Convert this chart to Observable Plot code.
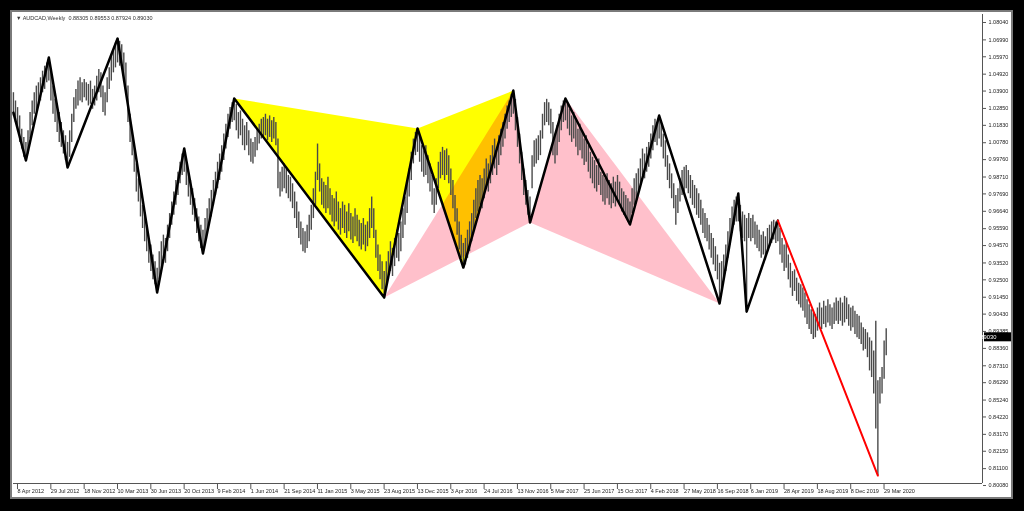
<!DOCTYPE html>
<html><head><meta charset="utf-8">
<script src="https://cdn.jsdelivr.net/npm/d3@7"></script>
<script src="https://cdn.jsdelivr.net/npm/@observablehq/plot@0.6"></script>
<style>
html,body{margin:0;padding:0;background:#000;width:1024px;height:511px;overflow:hidden;}
#frame{position:absolute;left:10px;top:10px;width:1003px;height:489px;box-sizing:border-box;border:2px solid #7a7a7a;background:#fff;}
#chart{position:absolute;left:0;top:0;}
#title{position:absolute;left:4px;top:3px;font:5.5px "Liberation Sans",Arial,sans-serif;color:#333;white-space:pre;z-index:2;}
</style></head>
<body>
<div id="frame"><div id="title">▼ AUDCAD,Weekly  0.88305 0.89553 0.87924 0.89030</div><div id="chart"></div></div>
<script>
// Weekly bars from 1 Apr 2012 (one value per week)
const lows = [
1.0240,1.0200,1.0150,1.0080,1.0040,0.9990,0.9971,1.0010,1.0100,1.0180,
1.0250,1.0270,1.0300,1.0330,1.0380,1.0400,1.0440,1.0450,1.0330,1.0250,
1.0200,1.0140,1.0080,1.0050,1.0010,0.9970,0.9928,0.9990,1.0080,1.0200,
1.0280,1.0300,1.0330,1.0320,1.0350,1.0330,1.0300,1.0310,1.0280,1.0300,
1.0330,1.0380,1.0350,1.0260,1.0240,1.0320,1.0400,1.0450,1.0500,1.0530,
1.0560,1.0540,1.0520,1.0450,1.0380,1.0200,1.0080,1.0000,0.9900,0.9780,
0.9720,0.9630,0.9560,0.9480,0.9420,0.9350,0.9300,0.9250,0.9220,0.9173,
0.9250,0.9300,0.9380,0.9350,0.9420,0.9500,0.9580,0.9640,0.9700,0.9760,
0.9830,0.9880,0.9900,0.9820,0.9750,0.9700,0.9640,0.9600,0.9530,0.9480,
0.9440,0.9409,0.9460,0.9530,0.9580,0.9630,0.9700,0.9760,0.9800,0.9850,
0.9900,0.9970,1.0040,1.0110,1.0160,1.0200,1.0210,1.0150,1.0100,1.0120,
1.0060,1.0030,1.0060,1.0000,0.9960,0.9950,0.9990,1.0030,1.0070,1.0100,
1.0110,1.0120,1.0090,1.0110,1.0080,1.0100,1.0060,0.9800,0.9750,0.9780,
0.9800,0.9770,0.9740,0.9720,0.9680,0.9620,0.9560,0.9500,0.9460,0.9420,
0.9410,0.9440,0.9480,0.9550,0.9620,0.9700,0.9850,0.9780,0.9700,0.9680,
0.9650,0.9680,0.9640,0.9600,0.9570,0.9600,0.9550,0.9520,0.9560,0.9530,
0.9500,0.9540,0.9490,0.9470,0.9510,0.9480,0.9450,0.9430,0.9460,0.9420,
0.9450,0.9500,0.9560,0.9500,0.9380,0.9300,0.9250,0.9190,0.9143,0.9200,
0.9250,0.9300,0.9270,0.9330,0.9380,0.9360,0.9420,0.9500,0.9580,0.9650,
0.9750,0.9850,0.9950,1.0000,1.0020,0.9960,0.9900,0.9870,0.9880,0.9830,
0.9780,0.9700,0.9650,0.9700,0.9800,0.9860,0.9880,0.9850,0.9880,0.9830,
0.9760,0.9680,0.9600,0.9520,0.9430,0.9380,0.9324,0.9340,0.9380,0.9420,
0.9480,0.9550,0.9620,0.9660,0.9700,0.9680,0.9740,0.9800,0.9780,0.9830,
0.9880,0.9920,0.9880,0.9940,1.0000,1.0050,1.0100,1.0160,1.0200,1.0230,
1.0250,1.0150,1.0050,0.9950,0.9850,0.9760,0.9700,0.9640,0.9596,0.9800,
0.9930,0.9950,0.9970,1.0000,1.0100,1.0180,1.0200,1.0180,1.0130,1.0000,
0.9950,1.0000,1.0080,1.0150,1.0200,1.0210,1.0160,1.0120,1.0080,1.0100,
1.0050,1.0000,1.0030,0.9980,0.9940,0.9960,0.9900,0.9860,0.9830,0.9800,
0.9780,0.9820,0.9760,0.9720,0.9700,0.9740,0.9700,0.9680,0.9710,0.9690,
0.9720,0.9700,0.9660,0.9640,0.9620,0.9600,0.9584,0.9650,0.9700,0.9730,
0.9760,0.9820,0.9880,0.9860,0.9900,0.9930,0.9980,1.0030,1.0080,1.0060,
1.0100,1.0050,0.9980,0.9930,0.9850,0.9800,0.9740,0.9680,0.9580,0.9650,
0.9720,0.9760,0.9780,0.9800,0.9770,0.9740,0.9700,0.9680,0.9640,0.9620,
0.9580,0.9530,0.9500,0.9480,0.9430,0.9380,0.9340,0.9300,0.9250,0.9107,
0.9200,0.9250,0.9300,0.9380,0.9460,0.9530,0.9580,0.9600,0.9600,0.9540,
0.9500,0.9480,0.9058,0.9500,0.9480,0.9500,0.9460,0.9440,0.9420,0.9380,
0.9400,0.9370,0.9420,0.9450,0.9470,0.9490,0.9470,0.9480,0.9400,0.9350,
0.9300,0.9320,0.9250,0.9200,0.9150,0.9180,0.9120,0.9100,0.9080,0.9060,
0.9020,0.8980,0.8950,0.8920,0.8890,0.8900,0.8940,0.8970,0.8950,0.8980,
0.8960,0.8990,0.8970,0.8950,0.8980,0.9000,0.8980,0.9000,0.8970,0.8990,
0.9010,0.8970,0.8940,0.8960,0.8920,0.8900,0.8890,0.8860,0.8820,0.8830,
0.8780,0.8700,0.8660,0.8560,0.8350,0.8068,0.8500,0.8560,0.8650,0.8792
];
const highs = [
1.0380,1.0330,1.0290,1.0240,1.0160,1.0110,1.0080,1.0150,1.0260,1.0330,
1.0380,1.0420,1.0440,1.0470,1.0510,1.0540,1.0560,1.0593,1.0520,1.0420,
1.0340,1.0290,1.0260,1.0200,1.0150,1.0120,1.0080,1.0150,1.0250,1.0350,
1.0400,1.0450,1.0470,1.0440,1.0460,1.0440,1.0430,1.0450,1.0400,1.0420,
1.0480,1.0520,1.0500,1.0420,1.0380,1.0470,1.0530,1.0600,1.0630,1.0680,
1.0707,1.0690,1.0670,1.0620,1.0560,1.0420,1.0250,1.0150,1.0060,0.9950,
0.9860,0.9790,0.9700,0.9640,0.9560,0.9500,0.9460,0.9400,0.9360,0.9320,
0.9420,0.9480,0.9520,0.9500,0.9580,0.9650,0.9720,0.9780,0.9850,0.9900,
0.9960,1.0010,1.0043,0.9980,0.9900,0.9850,0.9800,0.9740,0.9680,0.9630,
0.9580,0.9550,0.9620,0.9680,0.9740,0.9790,0.9850,0.9900,0.9960,1.0010,
1.0060,1.0130,1.0190,1.0250,1.0290,1.0320,1.0345,1.0310,1.0260,1.0270,
1.0220,1.0180,1.0200,1.0150,1.0100,1.0080,1.0110,1.0160,1.0190,1.0220,
1.0230,1.0250,1.0220,1.0240,1.0210,1.0230,1.0200,1.0100,0.9900,0.9930,
0.9950,0.9920,0.9880,0.9870,0.9830,0.9780,0.9720,0.9660,0.9600,0.9560,
0.9540,0.9580,0.9640,0.9700,0.9800,0.9900,1.0070,0.9950,0.9860,0.9840,
0.9820,0.9870,0.9800,0.9760,0.9740,0.9780,0.9720,0.9680,0.9720,0.9700,
0.9660,0.9710,0.9650,0.9630,0.9680,0.9640,0.9610,0.9590,0.9620,0.9580,
0.9600,0.9680,0.9750,0.9680,0.9550,0.9460,0.9400,0.9360,0.9300,0.9360,
0.9420,0.9480,0.9440,0.9500,0.9550,0.9530,0.9600,0.9680,0.9750,0.9830,
0.9920,1.0020,1.0100,1.0140,1.0164,1.0120,1.0060,1.0030,1.0060,1.0000,
0.9950,0.9880,0.9800,0.9860,0.9960,1.0020,1.0050,1.0030,1.0040,1.0000,
0.9920,0.9850,0.9760,0.9680,0.9600,0.9520,0.9470,0.9500,0.9550,0.9600,
0.9650,0.9730,0.9800,0.9850,0.9880,0.9860,0.9920,0.9980,0.9950,1.0000,
1.0060,1.0100,1.0050,1.0120,1.0160,1.0200,1.0250,1.0300,1.0330,1.0370,
1.0393,1.0340,1.0230,1.0130,1.0020,0.9920,0.9850,0.9790,0.9750,1.0000,
1.0090,1.0100,1.0120,1.0150,1.0250,1.0320,1.0340,1.0320,1.0280,1.0200,
1.0120,1.0180,1.0250,1.0300,1.0330,1.0345,1.0310,1.0280,1.0240,1.0260,
1.0210,1.0160,1.0190,1.0140,1.0100,1.0120,1.0060,1.0020,0.9990,0.9970,
0.9940,0.9980,0.9900,0.9880,0.9860,0.9890,0.9850,0.9830,0.9870,0.9840,
0.9880,0.9840,0.9800,0.9780,0.9760,0.9740,0.9720,0.9800,0.9860,0.9890,
0.9920,0.9980,1.0040,1.0010,1.0050,1.0080,1.0130,1.0180,1.0220,1.0200,
1.0242,1.0200,1.0130,1.0090,1.0000,0.9950,0.9890,0.9830,0.9760,0.9800,
0.9860,0.9910,0.9930,0.9940,0.9910,0.9880,0.9850,0.9820,0.9800,0.9770,
0.9730,0.9680,0.9650,0.9620,0.9580,0.9530,0.9500,0.9450,0.9400,0.9350,
0.9360,0.9400,0.9460,0.9540,0.9620,0.9690,0.9730,0.9750,0.9771,0.9700,
0.9660,0.9640,0.9620,0.9650,0.9620,0.9640,0.9600,0.9580,0.9550,0.9520,
0.9540,0.9510,0.9560,0.9580,0.9600,0.9610,0.9600,0.9608,0.9560,0.9500,
0.9460,0.9480,0.9400,0.9350,0.9300,0.9310,0.9260,0.9230,0.9220,0.9200,
0.9170,0.9130,0.9100,0.9070,0.9050,0.9040,0.9080,0.9110,0.9080,0.9120,
0.9090,0.9130,0.9100,0.9080,0.9110,0.9140,0.9120,0.9140,0.9110,0.9150,
0.9140,0.9100,0.9080,0.9090,0.9060,0.9040,0.9030,0.8990,0.8960,0.8950,
0.8930,0.8900,0.8880,0.8820,0.9000,0.8640,0.8660,0.8720,0.8880,0.8955
];
const firstBar = "2012-04-01";

// ZigZag pivots
const pivotDates = ["2012-04-01","2012-05-13","2012-07-29","2012-09-30","2013-03-17","2013-07-28","2013-10-27",
  "2013-12-29","2014-04-13","2015-08-30","2015-12-20","2016-05-22","2016-11-06","2017-01-01","2017-04-30",
  "2017-12-03","2018-03-11","2018-09-30","2018-12-02","2018-12-30","2019-04-14"];
const pivotPrices = [1.0260,0.9971,1.0593,0.9928,1.0707,0.9173,1.0043,0.9409,1.0345,0.9143,1.0164,
  0.9324,1.0393,0.9596,1.0345,0.9584,1.0242,0.9107,0.9771,0.9058,0.9608];
// red projection line
const redDates = ["2019-04-14","2020-03-15"];
const redPrices = [0.9608,0.8068];
// pattern triangles (indices into pivots)
const yellowTriangles = [[8,10,9],[10,12,11]];
const pinkTriangles = [[9,12,13],[13,14,17]];

const lastClose = 0.89030;

const xTickLabels = ["2012-04-08","2012-07-29","2012-11-18","2013-03-10","2013-06-30","2013-10-20","2014-02-09",
  "2014-06-01","2014-09-21","2015-01-11","2015-05-03","2015-08-23","2015-12-13","2016-04-03","2016-07-24",
  "2016-11-13","2017-03-05","2017-06-25","2017-10-15","2018-02-04","2018-05-27","2018-09-16","2019-01-06",
  "2019-04-28","2019-08-18","2019-12-08","2020-03-29"];
const yTickLabels = [1.08040,1.06990,1.05970,1.04920,1.03900,1.02850,1.01830,1.00780,0.99760,0.98710,0.97690,
  0.96640,0.95590,0.94570,0.93520,0.92500,0.91450,0.90430,0.89385,0.88360,0.87310,0.86290,0.85240,0.84220,
  0.83170,0.82150,0.81100,0.80080];

// ---- build tables ----
const t0 = new Date(firstBar + "T00:00Z").getTime();
const bars = highs.map((h, i) => ({date: new Date(t0 + i * 7 * 864e5), high: h, low: lows[i]}));
const pivots = pivotDates.map((d, i) => ({date: new Date(d + "T00:00Z"), price: pivotPrices[i]}));
const red = redDates.map((d, i) => ({date: new Date(d + "T00:00Z"), price: redPrices[i]}));
const triRows = (tris) => tris.flatMap((t, k) => t.map(j => ({tri: k, date: pivots[j].date, price: pivots[j].price})));
const xTicks = xTickLabels.map(d => new Date(d + "T00:00Z"));
const fmtDate = d3.utcFormat("%-d %b %Y");

const W = 999, H = 485;
const font = "Liberation Sans, Arial, sans-serif";

const priceBox = (index, scales, values, dims) => {
  const g = d3.create("svg:g");
  const y = scales.y(lastClose);
  const x0 = dims.width - dims.marginRight + 2;
  g.append("rect").attr("x", x0).attr("y", y - 4.5).attr("width", 27).attr("height", 9).attr("fill", "#000");
  g.append("text").attr("x", x0 + 2).attr("y", y).attr("dy", "0.35em").attr("fill", "#fff")
    .attr("font-size", 5.8).attr("font-family", font).text(lastClose.toFixed(5));
  return g.node();
};

const chart = Plot.plot({
  width: W, height: H,
  marginLeft: 1, marginRight: 29, marginTop: 2, marginBottom: 14,
  style: {fontFamily: font, background: "#fff", color: "#222"},
  x: {type: "utc", domain: [new Date("2012-04-01T06:43Z"), new Date("2021-03-01T14:24Z")]},
  y: {domain: [0.80202, 1.08523]},
  marks: [
    Plot.line(triRows(yellowTriangles), {x: "date", y: "price", z: "tri", fill: "#ffff00", stroke: "none", curve: "linear"}),
    Plot.line(triRows(pinkTriangles), {x: "date", y: "price", z: "tri", fill: "#ffc0cb", stroke: "none", curve: "linear", mixBlendMode: "multiply"}),
    Plot.ruleX(bars, {x: "date", y1: "low", y2: "high", stroke: "#4a4a4a", strokeWidth: 1.4}),
    Plot.line(pivots, {x: "date", y: "price", stroke: "#000", strokeWidth: 2.5}),
    Plot.line(red, {x: "date", y: "price", stroke: "#ff0000", strokeWidth: 2}),
    Plot.ruleY([0.80202], {stroke: "#555"}),
    Plot.ruleX([new Date("2021-03-01T14:24Z")], {stroke: "#555"}),
    Plot.axisX(xTicks, {anchor: "bottom", tickSize: 6, tickPadding: 0, textAnchor: "start", dx: 2, fontSize: 5.5, tickFormat: fmtDate, label: null, stroke: "#555", fill: "#222"}),
    Plot.axisY(yTickLabels, {anchor: "right", tickSize: 3, tickPadding: 3, fontSize: 5.5, tickFormat: d => d.toFixed(5), label: null, stroke: "#555", fill: "#222"}),
    priceBox
  ]
});
document.getElementById("chart").appendChild(chart);
</script>
</body></html>
